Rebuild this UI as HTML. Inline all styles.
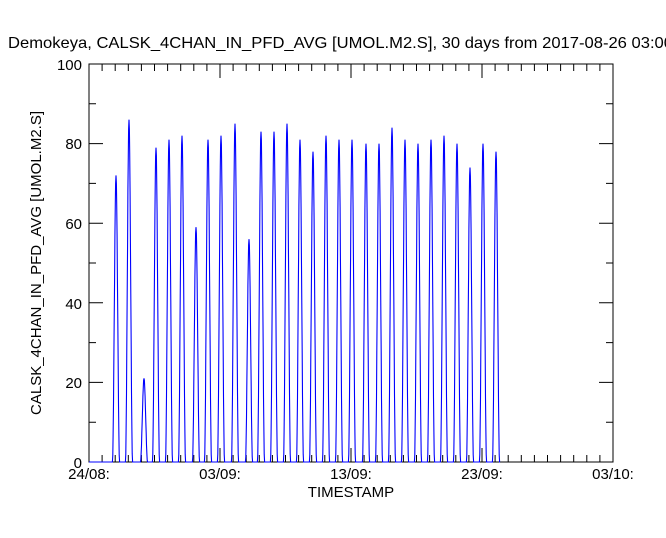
<!DOCTYPE html>
<html><head><meta charset="utf-8"><style>
body{margin:0;background:#fff;}
svg text{font-family:"Liberation Sans",sans-serif;fill:#000;}
</style></head><body>
<svg id="s" width="666" height="533" xmlns="http://www.w3.org/2000/svg">
<text x="8" y="48" font-size="16" textLength="665" lengthAdjust="spacingAndGlyphs">Demokeya, CALSK_4CHAN_IN_PFD_AVG [UMOL.M2.S], 30 days from  2017-08-26 03:00</text>
<g id="ax" stroke="#000" stroke-width="1" fill="none"></g>
<path id="d" stroke="#0000ff" stroke-width="1.1" fill="none"/>
<g font-size="15" text-anchor="end">
<text x="82" y="468">0</text><text x="82" y="388">20</text><text x="82" y="309">40</text>
<text x="82" y="229">60</text><text x="82" y="149">80</text><text x="82" y="70">100</text>
</g>
<g font-size="15" text-anchor="middle">
<text x="89" y="479">24/08:</text><text x="220" y="479">03/09:</text><text x="351" y="479">13/09:</text>
<text x="482" y="479">23/09:</text><text x="613" y="479">03/10:</text>
<text x="351" y="497">TIMESTAMP</text>
</g>
<text font-size="15" text-anchor="middle" transform="translate(41,263) rotate(-90)">CALSK_4CHAN_IN_PFD_AVG [UMOL.M2.S]</text>
</svg>
<script>
var L=89,R=613,T=64,B=462,px=13.1;
var a='';
a+='M'+L+' '+T+'H'+R+'V'+B+'H'+L+'Z';
for(var d=0;d<=40;d++){var x=L+d*px;if(x>R+0.5)break;var len=(d%10==0)?14:7;
a+='M'+x.toFixed(1)+' '+B+'v'+(-len)+'M'+x.toFixed(1)+' '+T+'v'+len;}
for(var v=10;v<100;v+=10){var y=B-v*(B-T)/100;var len=(v%20==0)?14:7;
a+='M'+L+' '+y.toFixed(1)+'h'+len+'M'+R+' '+y.toFixed(1)+'h'+(-len);}
document.getElementById('ax').innerHTML='<path d="'+a+'"/>';
var peaks=[[116,72],[129,86],[144,21],[156,79],[169,81],[182,82],[196,59],[208,81],[221,82],[235,85],[249,56],[261,83],[274,83],[287,85],[300,81],[313,78],[326,82],[339,81],[352,81],[366,80],[379,80],[392,84],[405,81],[418,80],[431,81],[444,82],[457,80],[470,74],[483,80],[496,78]];
var p='M'+L+' '+B;var sy=(B-T)/100;
peaks.forEach(function(k,i){var c=k[0],h=k[1],w=3.6;
p+='L'+(c-w).toFixed(1)+' '+B;
for(var t=-1;t<=1.001;t+=0.1){var f=Math.cos(t*Math.PI/2);f=f*f;var v=h*f*(1-0.05*Math.abs(Math.sin(i*7+t*13))*Math.abs(t));
p+='L'+(c+t*w).toFixed(1)+' '+(B-v*sy).toFixed(1);}
p+='L'+(c+w).toFixed(1)+' '+B;});
p+='L500 '+B;
document.getElementById('d').setAttribute('d',p);
</script>
</body></html>
